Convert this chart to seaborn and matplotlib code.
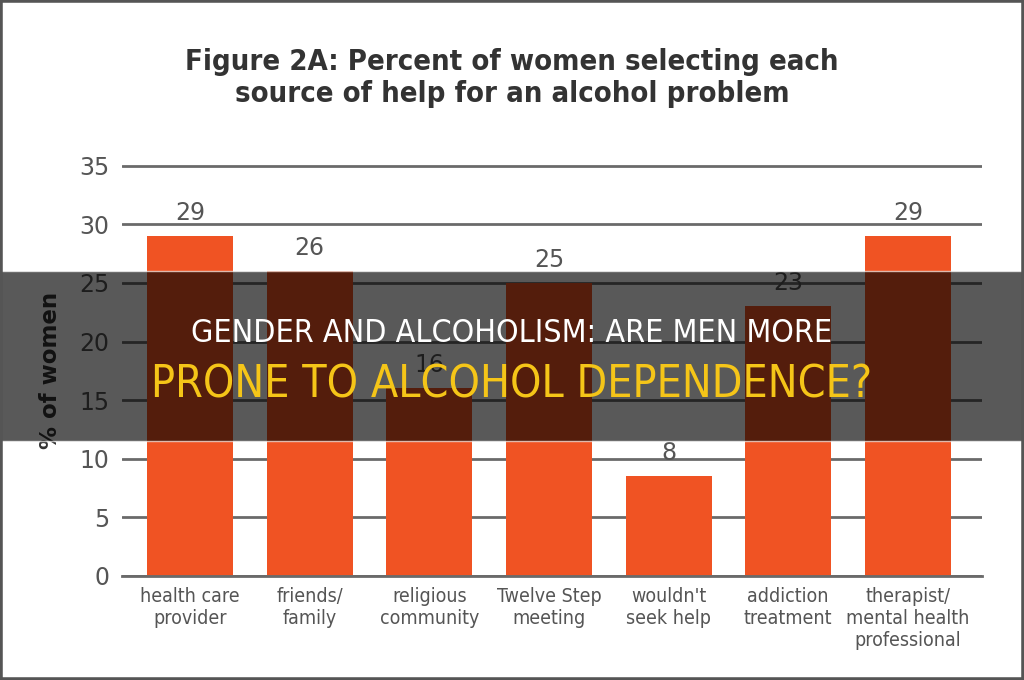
"""
Figure 2A bar chart with the dark headline banner on top
"""

import matplotlib
matplotlib.use("Agg")
import matplotlib.pyplot as plt
import seaborn as sns
from matplotlib.patches import Rectangle

sns.set_theme(style="white")
plt.rcParams["font.family"] = ["DejaVu Sans"]
plt.rcParams["font.stretch"] = "condensed"

# data
sources = ["health care\nprovider", "friends/\nfamily", "religious\ncommunity",
           "Twelve Step\nmeeting", "wouldn't\nseek help", "addiction\ntreatment",
           "therapist/\nmental health\nprofessional"]
pct_women = [29, 26, 16, 25, 8.5, 23, 29]
bar_labels = ["29", "26", "16", "25", "8", "23", "29"]
y_ticks = [0, 5, 10, 15, 20, 25, 30, 35]

title = "Figure 2A: Percent of women selecting each\nsource of help for an alcohol problem"
headline_1 = "GENDER AND ALCOHOLISM: ARE MEN MORE"
headline_2 = "PRONE TO ALCOHOL DEPENDENCE?"

BAR_COLOR = "#f05323"
GRID_COLOR = "#6a6a6a"
TEXT_COLOR = "#555555"

fig = plt.figure(figsize=(10.24, 6.8), dpi=100)
ax = fig.add_axes([0.119, 0.153, 0.84, 0.605])

sns.barplot(x=sources, y=pct_women, color=BAR_COLOR, saturation=1,
            width=0.72, linewidth=0, ax=ax)

# numbers use the normal width face
ax.bar_label(ax.containers[0], labels=bar_labels, padding=8,
             fontsize=17, color=TEXT_COLOR, fontstretch="normal")

ax.set_ylim(0, 35.1)
ax.set_xlim(-0.57, 6.62)
ax.set_yticks(y_ticks)
ax.yaxis.grid(True, color=GRID_COLOR, linewidth=2)
ax.set_axisbelow(True)
ax.tick_params(axis="y", length=0, pad=9, labelsize=17, labelcolor=TEXT_COLOR)
ax.tick_params(axis="x", length=0, pad=8, labelsize=14, labelcolor=TEXT_COLOR)
for lbl in ax.get_yticklabels():
    lbl.set_fontstretch("normal")
for s in ["top", "right", "left"]:
    ax.spines[s].set_visible(False)
ax.spines["bottom"].set_color(GRID_COLOR)
ax.spines["bottom"].set_linewidth(2)

ax.set_ylabel("% of women", fontsize=16.5, fontweight="bold", color="#333333",
              fontstretch="normal", labelpad=12)

fig.text(0.5, 0.885, title, ha="center", va="center", fontsize=21,
         fontweight="bold", color="#333333", linespacing=1.2)

# dark headline banner over the chart
fig.patches.append(Rectangle((0, 0.3515), 1, 0.25, transform=fig.transFigure,
                             facecolor="black", alpha=0.65, zorder=10))
fig.text(0.5, 0.51, headline_1, ha="center", va="center", fontsize=23,
         color="white", zorder=11)
fig.text(0.5, 0.434, headline_2, ha="center", va="center", fontsize=32,
         color="#f5c518", zorder=11)

# grey frame round the picture
fig.patches.append(Rectangle((0, 0), 1, 1, transform=fig.transFigure,
                             fill=False, edgecolor="#555555", linewidth=4,
                             zorder=12))

fig.savefig("out.png", dpi=100)
